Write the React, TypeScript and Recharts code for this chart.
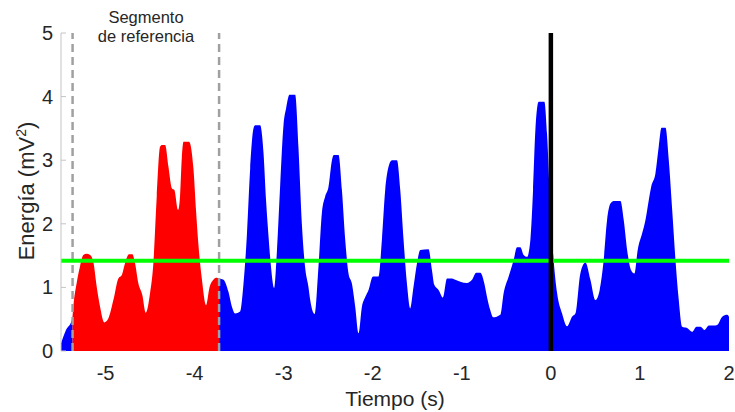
import React from "react";
import {
  ComposedChart,
  Area,
  XAxis,
  YAxis,
  ReferenceLine,
  Label,
} from "recharts";

// energy envelope (time in s, energy in mV^2)
const TIME = [
  -5.5, -5.444, -5.38, -5.37, -5.36, -5.324, -5.287, -5.249, -5.213, -5.174,
  -5.137, -5.099, -5.062, -5.013, -4.969, -4.912, -4.856, -4.818, -4.781, -4.736,
  -4.699, -4.669, -4.631, -4.587, -4.548, -4.5, -4.463, -4.425, -4.388, -4.366,
  -4.331, -4.294, -4.256, -4.227, -4.185, -4.163, -4.144, -4.124, -4.062, -4.013,
  -3.983, -3.957, -3.919, -3.871, -3.834, -3.789, -3.753, -3.725, -3.676, -3.62,
  -3.582, -3.545, -3.489, -3.452, -3.413, -3.376, -3.339, -3.32, -3.264, -3.227,
  -3.197, -3.171, -3.144, -3.107, -3.076, -3.039, -3.002, -2.972, -2.935, -2.871,
  -2.834, -2.796, -2.758, -2.721, -2.702, -2.652, -2.609, -2.571, -2.534, -2.497,
  -2.458, -2.438, -2.384, -2.346, -2.309, -2.272, -2.234, -2.197, -2.16, -2.121,
  -2.084, -2.047, -1.998, -1.935, -1.897, -1.86, -1.822, -1.784, -1.728, -1.691,
  -1.654, -1.616, -1.579, -1.542, -1.503, -1.466, -1.373, -1.335, -1.309, -1.261,
  -1.211, -1.166, -1.11, -1.073, -1.017, -0.942, -0.885, -0.837, -0.792, -0.747,
  -0.717, -0.68, -0.649, -0.567, -0.53, -0.474, -0.418, -0.38, -0.343, -0.306,
  -0.267, -0.23, -0.2, -0.174, -0.137, -0.073, -0.043, -0.006, 0.031, 0.07,
  0.126, 0.182, 0.238, 0.275, 0.331, 0.388, 0.444, 0.5, 0.548, 0.593,
  0.631, 0.669, 0.706, 0.781, 0.818, 0.856, 0.901, 0.938, 0.975, 1.025,
  1.062, 1.099, 1.126, 1.174, 1.211, 1.242, 1.287, 1.324, 1.362, 1.399,
  1.436, 1.474, 1.53, 1.587, 1.635, 1.68, 1.725, 1.773, 1.829, 1.867,
  1.924, 1.98, 2.0,
];

const ENERGY = [
  0.12, 0.33, 0.48, 0.55, 0.72, 1.07, 1.33, 1.51, 1.53, 1.51,
  1.4, 1.01, 0.7, 0.45, 0.51, 0.8, 1.14, 1.19, 1.38, 1.52,
  1.52, 1.38, 1.06, 0.88, 0.6, 0.91, 1.38, 2.43, 3.21, 3.24,
  3.24, 2.9, 2.56, 2.53, 2.22, 2.45, 3.03, 3.29, 3.29, 2.87,
  2.19, 1.67, 1.14, 0.72, 0.99, 1.12, 1.15, 1.14, 1.12, 0.93,
  0.7, 0.59, 0.62, 1.04, 1.82, 2.87, 3.5, 3.55, 3.55, 3.13,
  2.35, 1.82, 1.35, 0.99, 1.56, 2.61, 3.55, 3.82, 4.03, 4.03,
  3.2, 2.0, 1.3, 1.0, 0.8, 0.58, 1.33, 2.17, 2.43, 2.58,
  3.0, 3.08, 3.08, 2.53, 1.75, 1.22, 1.06, 0.7, 0.28, 0.7,
  0.85, 0.96, 1.17, 1.17, 1.75, 2.53, 2.9, 3.0, 3.0, 2.53,
  1.75, 1.06, 0.67, 1.01, 1.38, 1.59, 1.6, 1.27, 1.04, 0.96,
  0.84, 1.14, 1.14, 1.12, 1.09, 1.07, 1.12, 1.23, 1.23, 1.06,
  0.85, 0.64, 0.53, 0.57, 0.91, 1.17, 1.43, 1.63, 1.63, 1.51,
  1.48, 1.75, 2.53, 3.47, 3.92, 3.92, 3.42, 2.22, 1.43, 0.91,
  0.59, 0.39, 0.54, 0.59, 1.22, 1.39, 1.12, 0.8, 0.96, 1.43,
  2.06, 2.32, 2.36, 2.36, 2.06, 1.59, 1.27, 1.22, 1.59, 1.85,
  2.06, 2.37, 2.58, 2.79, 3.21, 3.51, 3.51, 3.0, 2.22, 1.43,
  0.8, 0.38, 0.36, 0.3, 0.38, 0.38, 0.33, 0.4, 0.4, 0.41,
  0.54, 0.57, 0.54,
];

const REF_START = -5.37;
const REF_END = -3.725;
const THRESHOLD = 1.42;
const X_TICKS = [-5, -4, -3, -2, -1, 0, 1, 2];
const Y_TICKS = [0, 1, 2, 3, 4, 5];

const FONT = "'Liberation Sans', Arial, Helvetica, sans-serif";
const TEXT = "#262626";
const AXIS = "#c4c4c4";

const data = TIME.map((t, i) => ({
  t,
  ref: t >= REF_START - 1e-9 && t <= REF_END + 1e-9 ? ENERGY[i] : null,
  rest: t <= REF_START + 1e-9 || t >= REF_END - 1e-9 ? ENERGY[i] : null,
}));

const YTick = (props: any) => {
  const { x, y, payload } = props;
  return (
    <g>
      <line x1={61} x2={66} y1={y} y2={y} stroke={AXIS} strokeWidth={1} />
      <text x={53} y={y + 7} textAnchor="end" fontSize={20} fill={TEXT} fontFamily={FONT}>
        {payload.value}
      </text>
    </g>
  );
};

const XTick = (props: any) => {
  const { x, payload } = props;
  return (
    <text x={x} y={380} textAnchor="middle" fontSize={20} fill={TEXT} fontFamily={FONT}>
      {payload.value}
    </text>
  );
};

const YLabel = () => (
  <text
    transform="translate(33.5,191) rotate(-90)"
    textAnchor="middle"
    fontSize={22}
    fill={TEXT}
    fontFamily={FONT}
  >
    Energía (mV
    <tspan dy={-8} fontSize={14}>2</tspan>
    <tspan dy={8}>)</tspan>
  </text>
);

const XLabel = () => (
  <text x={395} y={406} textAnchor="middle" fontSize={21} fill={TEXT} fontFamily={FONT}>
    Tiempo (s)
  </text>
);

export default function App() {
  return (
    <div style={{ position: "absolute", left: 0, top: 0, width: 735, height: 412, background: "#fff" }}>
      <ComposedChart
        width={735}
        height={412}
        data={data}
        margin={{ top: 33, right: 6, left: 0, bottom: 0 }}
      >
        <XAxis
          dataKey="t"
          type="number"
          domain={[-5.5, 2]}
          ticks={X_TICKS}
          allowDataOverflow
          axisLine={false}
          tickLine={false}
          height={61}
          tick={<XTick />}
        >
          <Label content={<XLabel />} />
        </XAxis>
        <YAxis
          type="number"
          domain={[0, 5]}
          ticks={Y_TICKS}
          allowDataOverflow
          width={61}
          axisLine={{ stroke: AXIS, strokeWidth: 1 }}
          tickLine={false}
          tick={<YTick />}
        >
          <Label content={<YLabel />} />
        </YAxis>
        <Area
          dataKey="rest"
          type="monotone"
          fill="#0000ff"
          fillOpacity={1}
          stroke="none"
          isAnimationActive={false}
          dot={false}
          activeDot={false}
        />
        <Area
          dataKey="ref"
          type="monotone"
          fill="#ff0000"
          fillOpacity={1}
          stroke="none"
          isAnimationActive={false}
          dot={false}
          activeDot={false}
        />
        <ReferenceLine x={REF_START} stroke="#a0a0a0" strokeWidth={2.5} strokeDasharray="8 5" />
        <ReferenceLine x={REF_END} stroke="#a0a0a0" strokeWidth={2.5} strokeDasharray="8 5" />
        <ReferenceLine y={THRESHOLD} stroke="#00ff00" strokeWidth={4} />
        <ReferenceLine x={0} stroke="#000000" strokeWidth={4.5} />
      </ComposedChart>
      <div
        style={{
          position: "absolute",
          left: 76,
          top: 8,
          width: 140,
          textAlign: "center",
          fontFamily: FONT,
          fontSize: 16.5,
          lineHeight: "19px",
          color: TEXT,
        }}
      >
        Segmento
        <br />
        de referencia
      </div>
    </div>
  );
}
